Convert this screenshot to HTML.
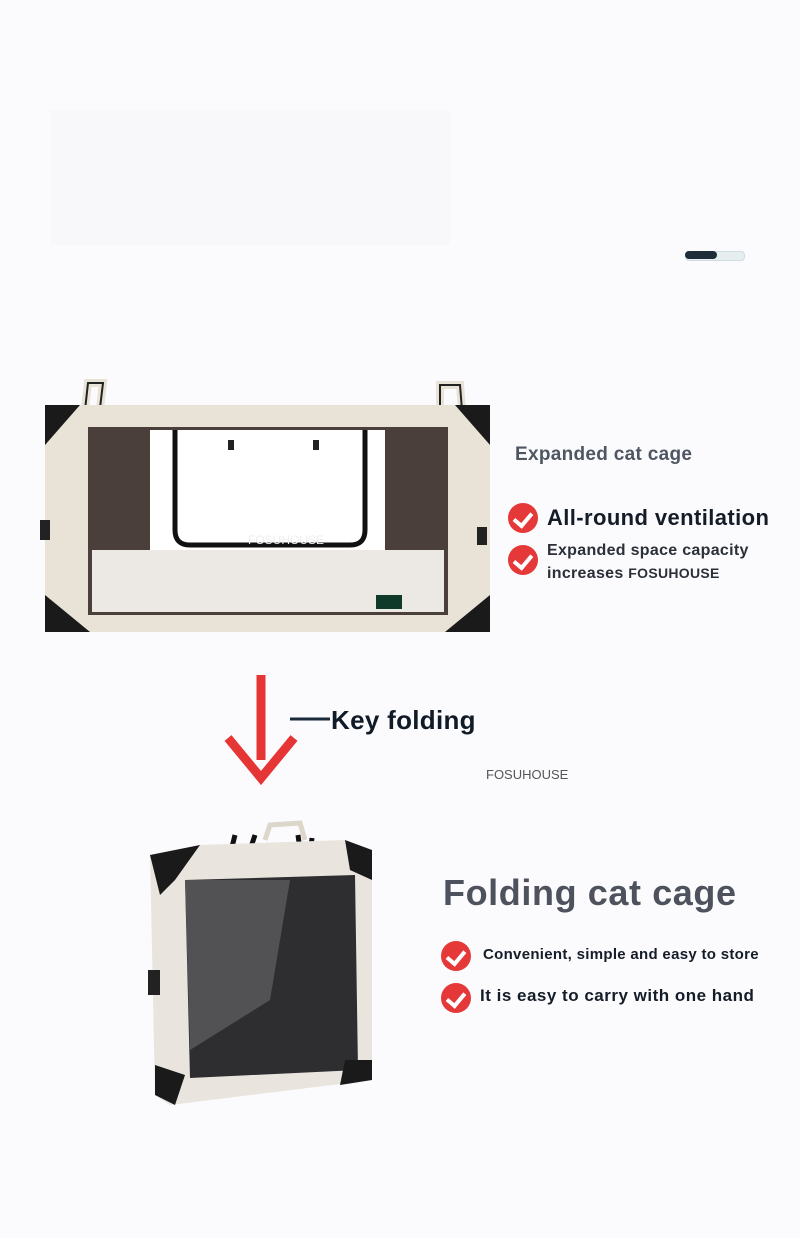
<!DOCTYPE html>
<html><head><meta charset="utf-8"><style>
body{margin:0;width:800px;height:1238px;background:#fbfbfd;font-family:"Liberation Sans",sans-serif;overflow:hidden;position:relative}
.t{position:absolute;white-space:nowrap;font-weight:bold}
.ck{position:absolute;width:30px;height:30px;border-radius:50%;background:#e53838}
.ck:after{content:"";position:absolute;left:9px;top:6px;width:8px;height:14px;border:solid #fff;border-width:0 4px 4px 0;transform:rotate(40deg)}
</style></head><body>
<div style="position:absolute;left:50px;top:110px;width:400px;height:135px;background:#f8f8fa"></div>
<div style="position:absolute;left:685px;top:251px;width:58px;height:8px;border-radius:4px;background:#e6eef0;border:1px solid #cfdde0"></div>
<div style="position:absolute;left:685px;top:251px;width:32px;height:8px;border-radius:4px;background:#1f2c3a"></div>

<svg style="position:absolute;left:0;top:0" width="800" height="1238">
<path d="M85 410 L88 383 L103 383 L100 408 M440 408 L440 385 L460 385 L462 410" stroke="#e9e2d6" stroke-width="8" fill="none"/>
<path d="M85 410 L88 383 L103 383 L100 408 M440 408 L440 385 L460 385 L462 410" stroke="#222" stroke-width="2" fill="none"/>
<rect x="45" y="405" width="445" height="227" fill="#e9e2d6"/>
<rect x="88" y="427" width="360" height="188" fill="#4a3f3a"/>
<rect x="150" y="430" width="235" height="120" fill="#fff"/>
<rect x="92" y="550" width="352" height="62" fill="#ece8e4"/>
<path d="M175 430 L175 530 Q175 545 190 545 L350 545 Q365 545 365 530 L365 430" stroke="#111" stroke-width="5" fill="none"/>
<rect x="228" y="440" width="6" height="10" fill="#222"/><rect x="313" y="440" width="6" height="10" fill="#222"/>
<rect x="376" y="595" width="26" height="14" fill="#0f3a2a"/>
<path d="M45 405 L80 405 L45 445Z M490 405 L455 405 L490 445Z M45 632 L45 595 L90 632Z M490 632 L490 595 L445 632Z" fill="#1a1a1a"/>
<rect x="40" y="520" width="10" height="20" fill="#222"/><rect x="477" y="527" width="10" height="18" fill="#222"/>
<line x1="261" y1="675" x2="261" y2="760" stroke="#e53535" stroke-width="9"/>
<path d="M228 738 L261 778 L294 738" stroke="#e53535" stroke-width="9" fill="none"/>
<line x1="290" y1="719" x2="330" y2="719" stroke="#1b2a3a" stroke-width="3"/>
<path d="M265 840 L270 825 L300 823 L305 840" stroke="#ddd6ca" stroke-width="5" fill="none"/>
<path d="M230 855 L235 835 M250 850 L255 835 M300 850 L298 835 M310 855 L312 838" stroke="#111" stroke-width="5"/>
<path d="M150 855 L200 845 L345 840 L372 850 L372 1080 L170 1105 L155 1095Z" fill="#e9e5de"/>
<path d="M185 880 L355 875 L358 1070 L190 1078Z" fill="#2e2e30"/>
<path d="M185 880 L290 880 L270 1000 L190 1050Z" fill="#6a6a6c" opacity=".6"/>
<path d="M150 855 L200 845 L175 880 L160 895Z M345 840 L372 850 L372 880 L350 870Z M155 1065 L185 1075 L175 1105 L155 1095Z M345 1060 L372 1060 L372 1080 L340 1085Z" fill="#1a1a1a"/>
<rect x="148" y="970" width="12" height="25" fill="#222"/>
</svg>

<div class="t" style="left:515px;top:444px;font-size:19px;color:#4f5661;letter-spacing:0.3px">Expanded cat cage</div>
<div class="ck" style="left:508px;top:503px"></div>
<div class="t" style="left:547px;top:505px;font-size:22px;color:#141c28;letter-spacing:0.4px">All-round ventilation</div>
<div class="ck" style="left:508px;top:545px"></div>
<div class="t" style="left:547px;top:540px;font-size:16px;color:#2a2f38;line-height:22px;letter-spacing:0.3px">Expanded space capacity<br>increases <span style="font-size:14px">FOSUHOUSE</span></div>
<div class="t" style="left:248px;top:533px;font-size:12px;color:#eee;font-weight:normal">FOSUHOUSE</div>
<div class="t" style="left:331px;top:705px;font-size:26px;color:#111b28;letter-spacing:0.3px">Key folding</div>
<div class="t" style="left:486px;top:767px;font-size:13px;color:#555;font-weight:normal">FOSUHOUSE</div>
<div class="t" style="left:443px;top:872px;font-size:36px;color:#4d525c;letter-spacing:0.6px">Folding cat cage</div>
<div class="ck" style="left:441px;top:941px"></div>
<div class="t" style="left:483px;top:946px;font-size:15px;color:#141c28;letter-spacing:0.3px">Convenient, simple and easy to store</div>
<div class="ck" style="left:441px;top:983px"></div>
<div class="t" style="left:480px;top:986px;font-size:17px;color:#141c28;letter-spacing:0.5px">It is easy to carry with one hand</div>
</body></html>
